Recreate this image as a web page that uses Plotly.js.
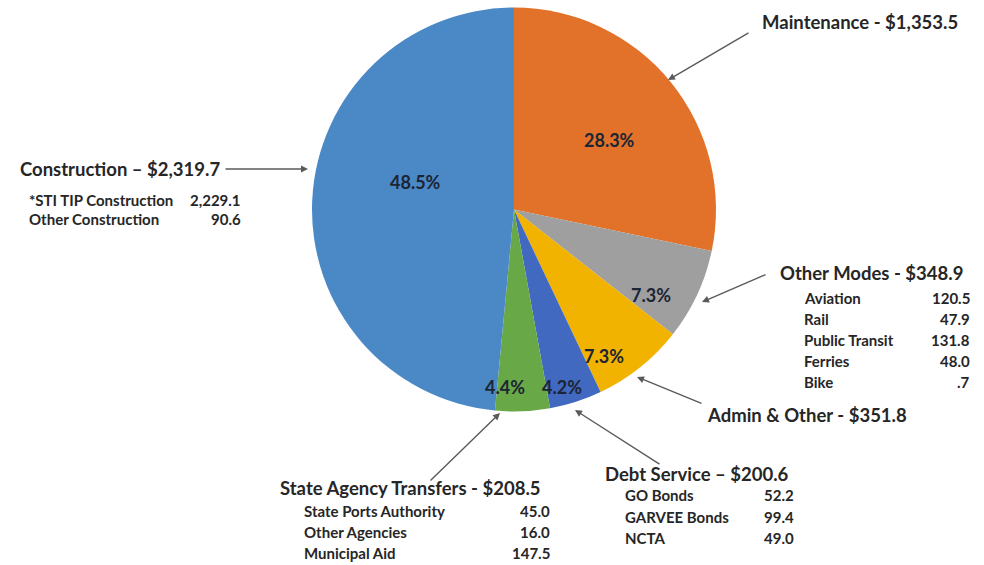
<!DOCTYPE html>
<html>
<head>
<meta charset="utf-8">
<script src="https://cdn.plot.ly/plotly-3.0.1.min.js"></script>
<style>html,body{margin:0;padding:0;background:#fff;}#chart{width:984px;height:565px;}</style>
</head>
<body>
<div id="chart"></div>
<script>
// ---- data ----
var categories = ['Maintenance', 'Other Modes', 'Admin & Other', 'Debt Service', 'State Agency Transfers', 'Construction'];
var values = [1353.5, 348.9, 351.8, 200.6, 208.5, 2319.7];
var pctLabels = ['28.3%', '7.3%', '7.3%', '4.2%', '4.4%', '48.5%'];
var separators = [' - ', ' - ', ' - ', ' \u2013 ', ' - ', ' \u2013 '];

var constructionItems = ['*STI TIP Construction', 'Other Construction'];
var constructionVals = ['2,229.1', '90.6'];
var otherModesItems = ['Aviation', 'Rail', 'Public Transit', 'Ferries', 'Bike'];
var otherModesVals = ['120.5', '47.9', '131.8', '48.0', '.7'];
var stateItems = ['State Ports Authority', 'Other Agencies', 'Municipal Aid'];
var stateVals = ['45.0', '16.0', '147.5'];
var debtItems = ['GO Bonds', 'GARVEE Bonds', 'NCTA'];
var debtVals = ['52.2', '99.4', '49.0'];

// ---- styling ----
var colors = ['#E2722A', '#9F9F9F', '#F2B200', '#4169BF', '#68A846', '#4B88C6'];
var W = 984, H = 565;
function px(x) { return x / W; }
function py(y) { return 1 - y / H; }
var FONT = 'Lato, "Open Sans", sans-serif';
var textColor = '#262626';

function fmt(v) { return v.toLocaleString('en-US', {minimumFractionDigits: 1, maximumFractionDigits: 1}); }
function mainLabel(i) { return categories[i] + separators[i] + '$' + fmt(values[i]); }

var ann = [];
function addText(text, x, y, anchor, size, weight, color) {
  ann.push({text: text, x: px(x), y: py(y), xref: 'paper', yref: 'paper', xanchor: anchor, yanchor: 'middle',
            showarrow: false, font: {family: FONT, size: size, color: color || textColor, weight: weight || 700}});
}
function addArrow(hx, hy, tx, ty) {
  ann.push({text: '', x: px(hx), y: py(hy), xref: 'paper', yref: 'paper', ax: tx - hx, ay: ty - hy,
            showarrow: true, arrowhead: 2, arrowsize: 1, arrowwidth: 1.4, arrowcolor: '#5a5a5a', standoff: 0, startstandoff: 0});
}

// percentage labels inside slices
var pctPos = [[609, 140], [651, 295], [604, 356], [562, 387], [505, 387], [415, 182]];
pctLabels.forEach(function (t, i) { addText(t, pctPos[i][0], pctPos[i][1], 'center', 18, 700, '#1c2533'); });

// main labels
var mainPos = [[760, 22], [778, 273], [705, 415], [603, 474], [278, 488], [18, 169]];
categories.forEach(function (c, i) { addText(mainLabel(i), mainPos[i][0], mainPos[i][1], 'left', 18.5, 700); });

// sub-item tables
function addRows(items, vals, xl, xr, y0, dy) {
  items.forEach(function (t, i) {
    addText(t, xl, y0 + i * dy, 'left', 15, 700);
    addText(vals[i], xr, y0 + i * dy, 'right', 15, 700);
  });
}
addRows(constructionItems, constructionVals, 27, 243, 200, 19);
addRows(otherModesItems, otherModesVals, 802, 972, 298, 21);
addRows(stateItems, stateVals, 302, 552, 511, 21);
addRows(debtItems, debtVals, 623, 796, 495, 21.5);

// arrows (head, tail)
addArrow(668, 80, 750, 32);
addArrow(702, 302, 767, 274);
addArrow(637, 377, 703, 404);
addArrow(575, 410, 661, 465);
addArrow(500, 413, 429, 482);
addArrow(308, 169, 224, 169);

var R = 202, cx = 514, cy = 209.5;
var trace = {
  type: 'pie',
  labels: categories,
  values: values,
  sort: false,
  direction: 'clockwise',
  rotation: 0,
  marker: {colors: colors, line: {width: 0}},
  textinfo: 'none',
  hoverinfo: 'none',
  showlegend: false,
  domain: {x: [px(cx - R), px(cx + R)], y: [py(cy + R), py(cy - R)]}
};

Plotly.newPlot('chart', [trace], {
  width: W, height: H,
  margin: {l: 0, r: 0, t: 0, b: 0},
  paper_bgcolor: '#ffffff',
  showlegend: false,
  annotations: ann
}, {displayModeBar: false, staticPlot: true});
</script>
</body>
</html>
